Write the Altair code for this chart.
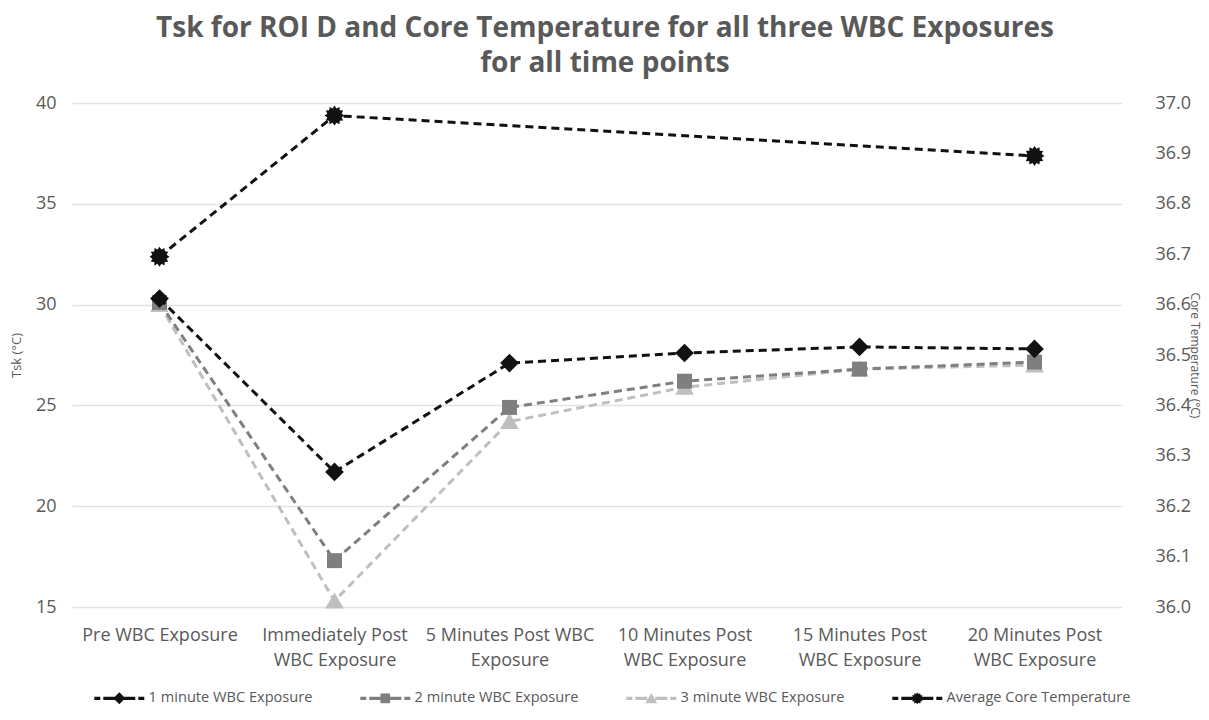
import json
import math
import altair as alt
import pandas as pd

# ---------------- data ----------------
CATEGORIES = [
    "Pre WBC Exposure",
    "Immediately Post WBC Exposure",
    "5 Minutes Post WBC Exposure",
    "10 Minutes Post WBC Exposure",
    "15 Minutes Post WBC Exposure",
    "20 Minutes Post WBC Exposure",
]
TICK_LINES = [
    ["Pre WBC Exposure"],
    ["Immediately Post", "WBC Exposure"],
    ["5 Minutes Post WBC", "Exposure"],
    ["10 Minutes Post", "WBC Exposure"],
    ["15 Minutes Post", "WBC Exposure"],
    ["20 Minutes Post", "WBC Exposure"],
]
SERIES = [
    "1 minute WBC Exposure",
    "2 minute WBC Exposure",
    "3 minute WBC Exposure",
    "Average Core Temperature",
]
ONE_MIN = [30.3, 21.7, 27.1, 27.6, 27.9, 27.8]
TWO_MIN = [30.1, 17.3, 24.9, 26.2, 26.8, 27.15]
THREE_MIN = [30.0, 15.3, 24.2, 25.9, 26.8, 27.0]
CORE_CATS = ["Pre WBC Exposure", "Immediately Post WBC Exposure", "20 Minutes Post WBC Exposure"]
CORE = [36.695, 36.975, 36.895]

LEFT_TICKS = [15, 20, 25, 30, 35, 40]
RIGHT_TICKS = [36.0, 36.1, 36.2, 36.3, 36.4, 36.5, 36.6, 36.7, 36.8, 36.9, 37.0]

COLORS = ["#111111", "#7f7f7f", "#bfbfbf", "#111111"]

# ---------------- styles ----------------
FONT = "Open Sans"
TEXT_COLOR = "#595959"


def star_path(n=12, r1=1.0, r2=0.74):
    pts = []
    for i in range(2 * n):
        r = r1 if i % 2 == 0 else r2
        a = math.pi * i / n - math.pi / 2
        pts.append(f"{r * math.cos(a):.3f},{r * math.sin(a):.3f}")
    return "M" + " L".join(pts) + " Z"


STAR = star_path()
MARKERS = {
    SERIES[0]: "M0,-1 L1,0 L0,1 L-1,0 Z",
    SERIES[1]: "M-0.8,-0.8 L0.8,-0.8 L0.8,0.8 L-0.8,0.8 Z",
    SERIES[2]: "M0,-0.9 L1,0.8 L-1,0.8 Z",
    SERIES[3]: STAR,
}


def rect(x0, x1, t=0.26):
    return f"M{x0:.3f},{-t} L{x1:.3f},{-t} L{x1:.3f},{t} L{x0:.3f},{t} Z"


# legend symbol: dashed line with the marker in the middle (unit = 6 px)
DASH_PX = [(-25, -19), (-16, -4), (4, 16), (19, 25)]
DASHES = " ".join(rect(a / 6, b / 6) for a, b in DASH_PX)
LEGEND_SHAPES = [DASHES + " " + MARKERS[s] for s in SERIES]

label_expr = " : ".join(
    f"datum.value == '{c}' ? {json.dumps(lines)}" for c, lines in zip(CATEGORIES, TICK_LINES)
) + " : datum.label"

# ---------------- tables ----------------
rows = []
for s, vals in zip(SERIES[:3], [ONE_MIN, TWO_MIN, THREE_MIN]):
    for c, v in zip(CATEGORIES, vals):
        rows.append({"category": c, "series": s, "value": v})
left_df = pd.DataFrame(rows)
core_df = pd.DataFrame({"category": CORE_CATS, "series": SERIES[3], "value": CORE})
all_df = pd.concat([left_df, core_df], ignore_index=True)

color_scale = alt.Scale(domain=SERIES, range=COLORS)
shape_scale = alt.Scale(domain=SERIES, range=LEGEND_SHAPES)

x_enc = alt.X(
    "category:N",
    sort=CATEGORIES,
    scale=alt.Scale(domain=CATEGORIES, type="point", padding=0.5),
    axis=alt.Axis(
        title=None,
        labelExpr=label_expr,
        ticks=False,
        domain=False,
        grid=False,
        labelPadding=19,
        labelFontSize=18,
        labelLineHeight=25,
        labelColor=TEXT_COLOR,
        labelFont=FONT,
        labelAngle=0,
    ),
)

legend = alt.Legend(
    title=None,
    orient="none",
    direction="horizontal",
    columns=4,
    legendX=21,
    legendY=588,
    padding=0,
    columnPadding=46,
    symbolSize=144,
    symbolOffset=19,
    labelOffset=22,
    labelLimit=400,
    labelFont=FONT,
    labelFontSize=14.6,
    labelColor=TEXT_COLOR,
    symbolStrokeWidth=0,
    symbolOpacity=1,
)

y_left = alt.Y(
    "value:Q",
    scale=alt.Scale(domain=[15, 40], nice=False, zero=False),
    axis=alt.Axis(
        values=LEFT_TICKS,
        grid=True,
        gridColor="#e3e3e3",
        gridWidth=1.5,
        domain=False,
        ticks=False,
        labelPadding=16,
        labelFontSize=18,
        labelColor=TEXT_COLOR,
        labelFont=FONT,
        title="Tsk (°C)",
        titleFont=FONT,
        titleFontSize=13,
        titleFontWeight="normal",
        titleColor=TEXT_COLOR,
        titlePadding=12,
    ),
)

# invisible first layer that only carries the legend (dashed line + marker symbols)
legend_layer = alt.Chart(all_df).mark_point(filled=True, opacity=0).encode(
    x=x_enc,
    y=y_left,
    color=alt.Color("series:N", scale=color_scale, legend=legend),
    shape=alt.Shape("series:N", scale=shape_scale, legend=legend),
)
layers = [legend_layer]
for i in [2, 1, 0]:
    s = SERIES[i]
    sub = left_df[left_df["series"] == s]
    base = alt.Chart(sub).encode(
        x=x_enc,
        y=y_left,
        color=alt.Color("series:N", scale=color_scale),
    )
    layers.append(base.mark_line(strokeDash=[8, 5], strokeWidth=3))
    layers.append(base.mark_point(filled=True, size=350, opacity=1, shape=MARKERS[s]))

left = alt.layer(*layers)

y_right = alt.Y(
    "value:Q",
    scale=alt.Scale(domain=[36.0, 37.0], nice=False, zero=False),
    axis=alt.Axis(
        orient="right",
        values=RIGHT_TICKS,
        format=".1f",
        grid=False,
        domain=False,
        ticks=False,
        offset=14,
        labelPadding=19,
        labelFontSize=18,
        labelColor=TEXT_COLOR,
        labelFont=FONT,
        title="Core Temperature  (°C)",
        titleFont=FONT,
        titleFontSize=12,
        titleFontWeight="normal",
        titleColor=TEXT_COLOR,
        titlePadding=-3,
    ),
)
core_base = alt.Chart(core_df).encode(
    x=x_enc,
    y=y_right,
    color=alt.Color("series:N", scale=color_scale),
)
core = alt.layer(
    core_base.mark_line(strokeDash=[8, 5], strokeWidth=3),
    core_base.mark_point(filled=True, size=400, opacity=1, shape=STAR),
)

chart = (
    alt.layer(left, core)
    .resolve_scale(y="independent")
    .properties(
        width=1050,
        height=504,
        autosize=alt.AutoSizeParams(type="none"),
        padding={"left": 64, "top": 95, "right": 79, "bottom": 100},
        title=alt.Title(
            ["Tsk for ROI D and Core Temperature for all three WBC Exposures", "for all time points"],
            font=FONT,
            fontSize=28,
            fontWeight="bold",
            color=TEXT_COLOR,
            lineHeight=35,
            anchor="middle",
            offset=16,
            dx=8,
        ),
    )
    .configure_view(stroke=None)
)

chart.save("out.html", embed_options={"renderer": "svg", "actions": False})
